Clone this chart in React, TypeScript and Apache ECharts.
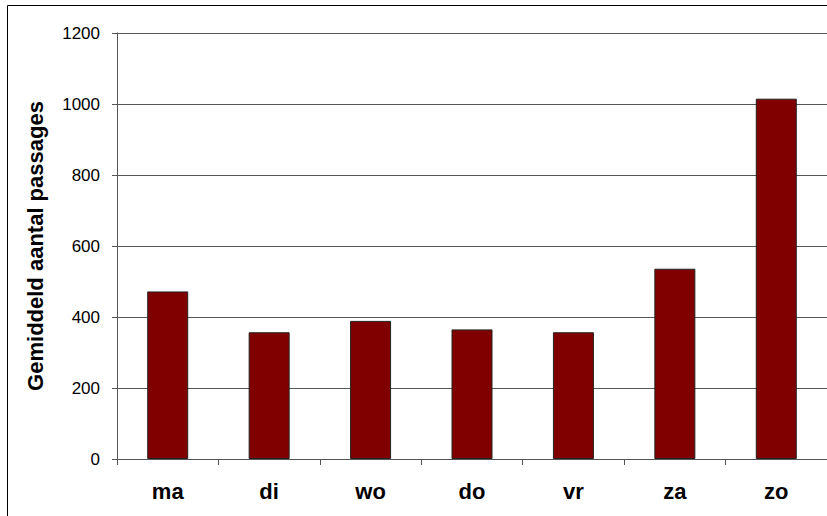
import React, { useEffect, useRef } from "react";
import * as echarts from "echarts";

const categories = ["ma", "di", "wo", "do", "vr", "za", "zo"];
const passages = [472, 357, 389, 365, 357, 536, 1015];
const yAxisTitle = "Gemiddeld aantal passages";

export default function App() {
  const ref = useRef<HTMLDivElement>(null);
  useEffect(() => {
    if (!ref.current) return;
    const chart = echarts.init(ref.current, undefined, { renderer: "svg" });
    chart.setOption({
      animation: false,
      backgroundColor: "#ffffff",
      textStyle: { fontFamily: "Liberation Sans, Arial, sans-serif" },
      graphic: [
        {
          type: "rect",
          shape: { x: 7.5, y: 5.5, width: 900, height: 600 },
          style: { fill: "none", stroke: "#000000", lineWidth: 1 },
          silent: true,
        },
      ],
      grid: { left: 117, right: 0, top: 33, bottom: 57 },
      xAxis: {
        type: "category",
        data: categories,
        axisLine: { lineStyle: { color: "#555555", width: 1 } },
        axisTick: { show: true, alignWithLabel: false, length: 6, lineStyle: { color: "#555555" } },
        axisLabel: {
          color: "#000000",
          fontWeight: "bold",
          fontSize: 22,
          margin: 21,
          fontFamily: "Liberation Sans, Arial, sans-serif",
        },
      },
      yAxis: {
        type: "value",
        min: 0,
        max: 1200,
        interval: 200,
        name: yAxisTitle,
        nameLocation: "middle",
        nameGap: 71,
        nameRotate: 90,
        nameTextStyle: {
          color: "#000000",
          fontWeight: "bold",
          fontSize: 22,
          fontFamily: "Liberation Sans, Arial, sans-serif",
        },
        axisLine: { show: true, lineStyle: { color: "#555555", width: 1 } },
        axisTick: { show: true, length: 5, lineStyle: { color: "#555555" } },
        axisLabel: {
          color: "#000000",
          fontSize: 17,
          margin: 17,
          formatter: (v: number) => String(v),
          fontFamily: "Liberation Sans, Arial, sans-serif",
        },
        splitLine: { show: true, lineStyle: { color: "#555555", width: 1 } },
      },
      series: [
        {
          type: "bar",
          data: passages,
          barWidth: 41,
          itemStyle: { color: "#800000", borderColor: "#222222", borderWidth: 1 },
        },
      ],
    });
    return () => chart.dispose();
  }, []);
  return (
    <div
      ref={ref}
      style={{ position: "fixed", left: 0, top: 0, width: 827, height: 516 }}
    />
  );
}
